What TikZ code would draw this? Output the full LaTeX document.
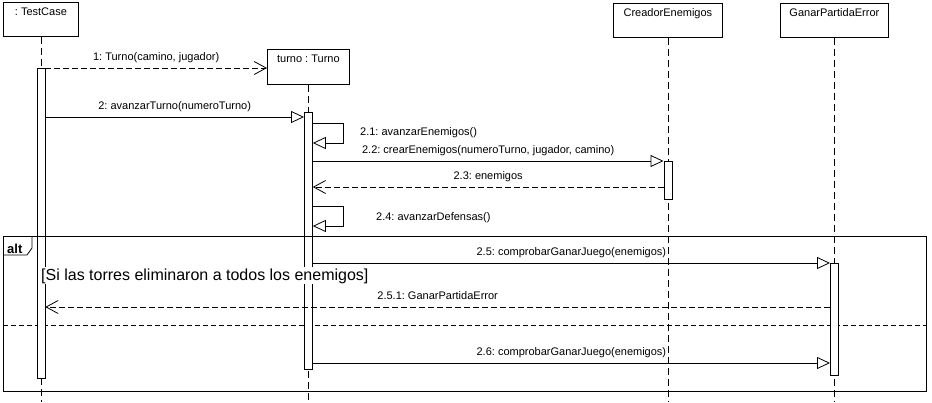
\documentclass[tikz,border=0pt]{standalone}
\usepackage{fontspec}
\setmainfont{Liberation Sans}
\usetikzlibrary{arrows.meta}
\frenchspacing
\begin{document}
\begin{tikzpicture}[x=1pt,y=-1pt,
  every node/.style={font=\fontsize{11}{13}\selectfont},
  obj/.style={draw, line width=0.8pt, fill=white, inner sep=0, anchor=north west},
  act/.style={draw, line width=0.8pt, fill=white, inner sep=0, minimum width=8pt, anchor=north},
  life/.style={line width=0.8pt, dash pattern=on 7pt off 4pt},
  call/.style={line width=0.8pt, -{Triangle[open,length=13pt,width=12pt]}},
  ret/.style={line width=0.8pt, dash pattern=on 6pt off 3pt, -{Straight Barb[length=12pt,width=13pt]}},
  lbl/.style={anchor=base, inner sep=0, yshift=8pt},
  slbl/.style={anchor=base west, inner sep=0},
]
\useasboundingbox (0,0) rectangle (932,402);

% participants
\node[obj, minimum width=75pt, minimum height=34pt] (tc) at (3,2) {};
\node[anchor=base, inner sep=0] (tct) at ([yshift=-13pt]tc.north) {: TestCase};
\node[obj, minimum width=82pt, minimum height=35pt] (tu) at (267,49) {};
\node[anchor=base, inner sep=0] (tut) at ([yshift=-13pt]tu.north) {turno : Turno};
\node[obj, minimum width=109pt, minimum height=34pt] (ce) at (613,3) {};
\node[anchor=base, inner sep=0] (cet) at ([yshift=-13pt]ce.north) {CreadorEnemigos};
\node[obj, minimum width=108pt, minimum height=34pt] (gp) at (780,3) {};
\node[anchor=base, inner sep=0] (gpt) at ([yshift=-13pt]gp.north) {GanarPartidaError};

% lifelines
\coordinate (tcb) at (tc.south |- 0,402);
\coordinate (tub) at (tu.south |- 0,402);
\coordinate (ceb) at (ce.south |- 0,402);
\coordinate (gpb) at (gp.south |- 0,402);
\draw[life] (tc.south) -- (tcb);
\draw[life] (tu.south) -- (tub);
\draw[life] (ce.south) -- (ceb);
\draw[life] (gp.south) -- (gpb);

% operand separator of the combined fragment
\coordinate (sepl) at (3,325);
\coordinate (sepr) at (926,325);
\draw[line width=0.8pt, dash pattern=on 5pt off 3pt] (sepl) -- (sepr);

% activations
\node[act, minimum height=310pt] (tca) at (tc.south |- 0,68) {};
\node[act, minimum height=257pt] (tua) at (tu.south |- 0,112) {};
\node[act, minimum height=38pt] (cea) at (ce.south |- 0,161) {};
\node[act, minimum height=112pt] (gpa) at (gp.south |- 0,263) {};

% combined fragment frame and guard
\node[draw, line width=0.8pt, inner sep=0, minimum width=923pt, minimum height=155pt, anchor=north west] (alt) at (3,236) {};
\draw[line width=0.8pt] ([yshift=-19pt]alt.north west) -- ++(24,0) -- ++(5,-7) -- ++(0,-12);
\node[font=\bfseries\fontsize{13}{15}\selectfont, anchor=base west, inner sep=0] (altl) at ([xshift=4pt,yshift=-17pt]alt.north west) {alt};
\node[font=\fontsize{16}{19}\selectfont, anchor=base west, inner sep=1pt, fill=white] (guard) at (40,280) {[Si las torres eliminaron a todos los enemigos]};

% messages
\draw[ret] (tca.east |- 0,68) -- node[lbl] {1: Turno(camino, jugador)} (tu.west |- 0,68);
\draw[call] (tca.east |- 0,117) -- node[lbl] {2: avanzarTurno(numeroTurno)} (tua.west |- 0,117);
\draw[call] (tua.east |- 0,123) -| ++(31,20) -- (tua.east |- 0,143);
\node[slbl] (l21) at (360,135) {2.1: avanzarEnemigos()};
\draw[call] (tua.east |- 0,161) -- node[lbl] {2.2: crearEnemigos(numeroTurno, jugador, camino)} (cea.west |- 0,161);
\draw[ret] (cea.west |- 0,187) -- node[lbl] {2.3: enemigos} (tua.east |- 0,187);
\draw[call] (tua.east |- 0,206) -| ++(31,20) -- (tua.east |- 0,226);
\node[slbl] (l24) at (376,220) {2.4: avanzarDefensas()};
\draw[call] (tua.east |- 0,263) -- node[lbl] {2.5: comprobarGanarJuego(enemigos)} (gpa.west |- 0,263);
\draw[ret] (gpa.west |- 0,307) -- node[lbl] {2.5.1: GanarPartidaError} (tca.east |- 0,307);
\draw[call] (tua.east |- 0,363) -- node[lbl] {2.6: comprobarGanarJuego(enemigos)} (gpa.west |- 0,363);
\end{tikzpicture}
\end{document}
